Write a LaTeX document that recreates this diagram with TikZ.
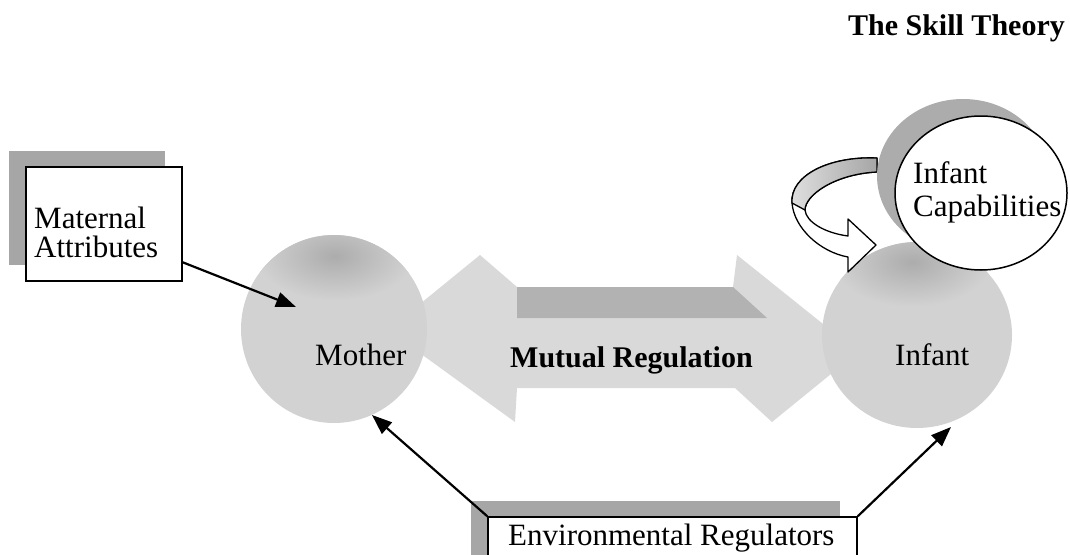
\documentclass[tikz,border=0pt]{standalone}
\usepackage{fontspec}
\setmainfont{Liberation Serif}
\usetikzlibrary{arrows.meta,calc,shapes.geometric,shadows}
\begin{document}
\begin{tikzpicture}[x=1pt,y=-1pt,
  lbl/.style={inner sep=0pt, font=\fontsize{31}{31}\selectfont},
  boxshape/.style={draw, fill=white, line width=1.6pt, inner sep=0pt,
    general shadow={fill=gray!70, shadow xshift=-17pt, shadow yshift=16pt}},
  blob/.style={ellipse, inner sep=0pt, fill=gray!35},
  conn/.style={line width=2.2pt, -{Triangle[length=20pt,width=15pt]}},
]
\useasboundingbox (0,0) rectangle (1070,554);
\clip (0,0) rectangle (1070,554);

% title
\node[lbl, font=\fontsize{30}{30}\selectfont\bfseries, anchor=base east] (title) at (1065,35) {The Skill Theory};

% boxes
\node[boxshape, minimum width=156pt, minimum height=114pt] (matbox) at (104,224) {};
\node[lbl, anchor=base west] (matA) at (34,228) {Maternal};
\node[lbl, anchor=base west] (matB) at (34,257) {Attributes};

\node[boxshape, minimum width=369pt, minimum height=70pt] (envbox) at (672.5,552) {};
\node[lbl, font=\fontsize{31}{31}\selectfont, anchor=base west] (envlbl) at (508,545) {Environmental Regulators};

% double arrow (mutual regulation)
\fill[gray!30] (388,330) -- (480,255) -- (517,287) -- (733,287) -- (737,255) -- (858,352)
  -- (772,422) -- (735,388) -- (517,388) -- (515,422) -- cycle;
\fill[gray!60] (517,287) -- (733,287) -- (767,318) -- (517,318) -- cycle;

% circles
\node[blob, minimum width=186pt, minimum height=188pt] (mother) at (334,329) {};
\node[blob, minimum width=190pt, minimum height=186pt] (infant) at (917,335) {};
\begin{scope}
  \clip (334,329) ellipse (93 and 94);
  \shade[inner color=gray!65, outer color=gray!35] (335,256) ellipse (80 and 45);
\end{scope}
\begin{scope}
  \clip (917,335) ellipse (95 and 93);
  \shade[inner color=gray!65, outer color=gray!35] (912,262) ellipse (80 and 45);
\end{scope}

% curved ribbon arrow
\filldraw[fill=white, line width=1.3pt, line join=round]
  (877,158) .. controls (830,156) and (790,175) .. (792,203)
  .. controls (794,228) and (820,252) .. (848,257) -- (848,272) -- (876,245)
  -- (848,219) -- (848,236) .. controls (825,233) and (806,222) .. (805,210)
  .. controls (805,195) and (835,174) .. (877,172) -- cycle;
\shade[left color=gray!25, right color=gray!70, draw, line width=1.3pt, line join=round]
  (877,158) .. controls (830,156) and (790,175) .. (792,203) -- (805,210)
  .. controls (805,195) and (835,174) .. (877,172) -- cycle;

% infant capabilities ellipse
\node[ellipse, draw, fill=white, line width=1.5pt, minimum width=172pt, minimum height=154pt,
  inner sep=0pt, general shadow={fill=gray!65, shadow xshift=-18pt, shadow yshift=17pt}] (cap) at (981,193) {};
\node[lbl, anchor=base west] (capA) at (913,183) {Infant};
\node[lbl, anchor=base west] (capB) at (913,216) {Capabilities};

% labels
\node[lbl, anchor=base west] (motherlbl) at (315,365) {Mother};
\node[lbl, anchor=base west] (infantlbl) at (895,365) {Infant};
\node[lbl, font=\fontsize{30}{30}\selectfont\bfseries, anchor=base west] (mutual) at (510,367) {Mutual Regulation};

% connectors
\coordinate (matout) at (182,262);
\coordinate (mtipA) at (296,307);
\coordinate (mtipB) at (372,415);
\coordinate (itip) at (951,427);
\draw[conn] (matout) -- (mtipA);
\draw[conn] (envbox.north west) -- (mtipB);
\draw[conn] (envbox.north east) -- (itip);
\end{tikzpicture}
\end{document}
